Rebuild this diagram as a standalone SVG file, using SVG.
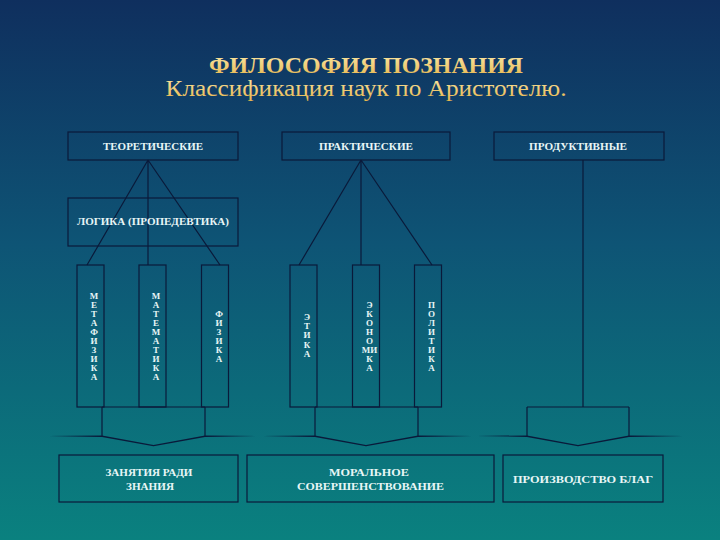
<svg xmlns="http://www.w3.org/2000/svg" width="720" height="540" viewBox="0 0 720 540">
<defs>
<linearGradient id="bg" x1="0" y1="0" x2="0" y2="1">
<stop offset="0" stop-color="#0f2f5e"/>
<stop offset="0.45" stop-color="#0e5475"/>
<stop offset="1" stop-color="#0a817f"/>
</linearGradient>
<linearGradient id="gold" x1="0" y1="0" x2="0" y2="1">
<stop offset="0" stop-color="#fbe9a8"/>
<stop offset="1" stop-color="#e6b54c"/>
</linearGradient>
<style>
.box{fill:none;stroke:#0a1a3a;stroke-width:1.2}
.ln{fill:none;stroke:#0a1a3a;stroke-width:1.2}
.brace{fill:#0a1a3a;stroke:none}
.lbl{font-family:"Liberation Serif","Times New Roman",serif;font-weight:bold;font-size:10.5px;fill:#e8f6f6;text-anchor:middle}
.big{font-family:"Liberation Serif","Times New Roman",serif;font-weight:bold;font-size:11px;fill:#e8f6f6;text-anchor:middle}
.vt{font-family:"Liberation Serif","Times New Roman",serif;font-weight:bold;font-size:9px;fill:#e8f6f6;text-anchor:middle}
.t1{font-family:"Liberation Serif","Times New Roman",serif;font-weight:bold;font-size:23px;fill:url(#gold);text-anchor:middle}
.t2{font-family:"Liberation Serif","Times New Roman",serif;font-size:23px;fill:url(#gold);text-anchor:middle}
</style>
</defs>
<rect width="720" height="540" fill="url(#bg)"/>

<g id="title">
<text class="t1" x="366" y="73" textLength="314" lengthAdjust="spacingAndGlyphs">ФИЛОСОФИЯ ПОЗНАНИЯ</text>
<text class="t2" x="366" y="96" textLength="401" lengthAdjust="spacingAndGlyphs">Классификация наук по Аристотелю.</text>
</g>

<g id="connectors">
<path class="ln" d="M148,160 L87,265 M148,160 L148,265 M148,160 L220,265"/>
<path class="ln" d="M361,160 L299,265 M361,160 L361,265 M361,160 L432,265"/>
<path class="ln" d="M583,160 L583,407"/>
<path class="ln" d="M102,407 H205 M102,407 V436 M205,407 V436"/>
<path class="ln" d="M315,407 H418 M315,407 V436 M418,407 V436"/>
<path class="ln" d="M527,407 H629 M527,407 V436 M629,407 V436"/>
<path class="brace" d="M49,436 L102,435.4 L153.5,445 L205,435.4 L256,436 L205,436.9 L153.5,446.2 L102,436.9 Z"/>
<path class="brace" d="M263,436 L315,435.4 L366,445 L418,435.4 L472,436 L418,436.9 L366,446.2 L315,436.9 Z"/>
<path class="brace" d="M477,436 L527,435.4 L578,445 L629,435.4 L683,436 L629,436.9 L578,446.2 L527,436.9 Z"/>
</g>

<g id="n-theor">
<rect class="box" x="68" y="132" width="170" height="28"/>
<text class="lbl" x="153" y="150" textLength="100" lengthAdjust="spacingAndGlyphs">ТЕОРЕТИЧЕСКИЕ</text>
</g>
<g id="n-pract">
<rect class="box" x="282" y="132" width="168" height="28"/>
<text class="lbl" x="366" y="150" textLength="94" lengthAdjust="spacingAndGlyphs">ПРАКТИЧЕСКИЕ</text>
</g>
<g id="n-prod">
<rect class="box" x="494" y="132" width="170" height="28"/>
<text class="lbl" x="578" y="150" textLength="98" lengthAdjust="spacingAndGlyphs">ПРОДУКТИВНЫЕ</text>
</g>

<g id="n-logic">
<rect class="box" x="68" y="198" width="170" height="48"/>
<text class="lbl" x="153" y="225" textLength="152" lengthAdjust="spacingAndGlyphs">ЛОГИКА (ПРОПЕДЕВТИКА)</text>
</g>

<g id="n-metaphys">
<rect class="box" x="77" y="265" width="27" height="142"/>
<text class="vt"><tspan x="94" y="299">М</tspan><tspan x="94" dy="9">Е</tspan><tspan x="94" dy="9">Т</tspan><tspan x="94" dy="9">А</tspan><tspan x="94" dy="9">Ф</tspan><tspan x="94" dy="9">И</tspan><tspan x="94" dy="9">З</tspan><tspan x="94" dy="9">И</tspan><tspan x="94" dy="9">К</tspan><tspan x="94" dy="9">А</tspan></text>
</g>
<g id="n-math">
<rect class="box" x="139" y="265" width="27" height="142"/>
<text class="vt"><tspan x="156" y="299">М</tspan><tspan x="156" dy="9">А</tspan><tspan x="156" dy="9">Т</tspan><tspan x="156" dy="9">Е</tspan><tspan x="156" dy="9">М</tspan><tspan x="156" dy="9">А</tspan><tspan x="156" dy="9">Т</tspan><tspan x="156" dy="9">И</tspan><tspan x="156" dy="9">К</tspan><tspan x="156" dy="9">А</tspan></text>
</g>
<g id="n-phys">
<rect class="box" x="201.5" y="265" width="27" height="142"/>
<text class="vt"><tspan x="219" y="317">Ф</tspan><tspan x="219" dy="8.9">И</tspan><tspan x="219" dy="8.9">З</tspan><tspan x="219" dy="8.9">И</tspan><tspan x="219" dy="8.9">К</tspan><tspan x="219" dy="8.9">А</tspan></text>
</g>
<g id="n-ethics">
<rect class="box" x="290" y="265" width="27" height="142"/>
<text class="vt"><tspan x="307" y="320">Э</tspan><tspan x="307" dy="9.2">Т</tspan><tspan x="307" dy="9.2">И</tspan><tspan x="307" dy="9.2">К</tspan><tspan x="307" dy="9.2">А</tspan></text>
</g>
<g id="n-econ">
<rect class="box" x="352.5" y="265" width="27" height="142"/>
<text class="vt"><tspan x="369.5" y="307.6">Э</tspan><tspan x="369.5" dy="9.06">К</tspan><tspan x="369.5" dy="9.06">О</tspan><tspan x="369.5" dy="9.06">Н</tspan><tspan x="369.5" dy="9.06">О</tspan><tspan x="369.5" dy="9.06">МИ</tspan><tspan x="369.5" dy="9.06">К</tspan><tspan x="369.5" dy="9.06">А</tspan></text>
</g>
<g id="n-polit">
<rect class="box" x="414.5" y="265" width="27" height="142"/>
<text class="vt"><tspan x="431.5" y="307.6">П</tspan><tspan x="431.5" dy="9.06">О</tspan><tspan x="431.5" dy="9.06">Л</tspan><tspan x="431.5" dy="9.06">И</tspan><tspan x="431.5" dy="9.06">Т</tspan><tspan x="431.5" dy="9.06">И</tspan><tspan x="431.5" dy="9.06">К</tspan><tspan x="431.5" dy="9.06">А</tspan></text>
</g>

<g id="n-knowledge">
<rect class="box" x="59" y="455" width="179" height="47"/>
<text class="big" x="149" y="476" textLength="87" lengthAdjust="spacingAndGlyphs">ЗАНЯТИЯ РАДИ</text>
<text class="big" x="150" y="490" textLength="48" lengthAdjust="spacingAndGlyphs">ЗНАНИЯ</text>
</g>
<g id="n-moral">
<rect class="box" x="247" y="455" width="247" height="47"/>
<text class="big" x="369" y="476" textLength="80" lengthAdjust="spacingAndGlyphs">МОРАЛЬНОЕ</text>
<text class="big" x="370.5" y="490" textLength="147" lengthAdjust="spacingAndGlyphs">СОВЕРШЕНСТВОВАНИЕ</text>
</g>
<g id="n-goods">
<rect class="box" x="503" y="455" width="160" height="47"/>
<text class="big" x="583" y="483" textLength="140" lengthAdjust="spacingAndGlyphs">ПРОИЗВОДСТВО БЛАГ</text>
</g>
</svg>
